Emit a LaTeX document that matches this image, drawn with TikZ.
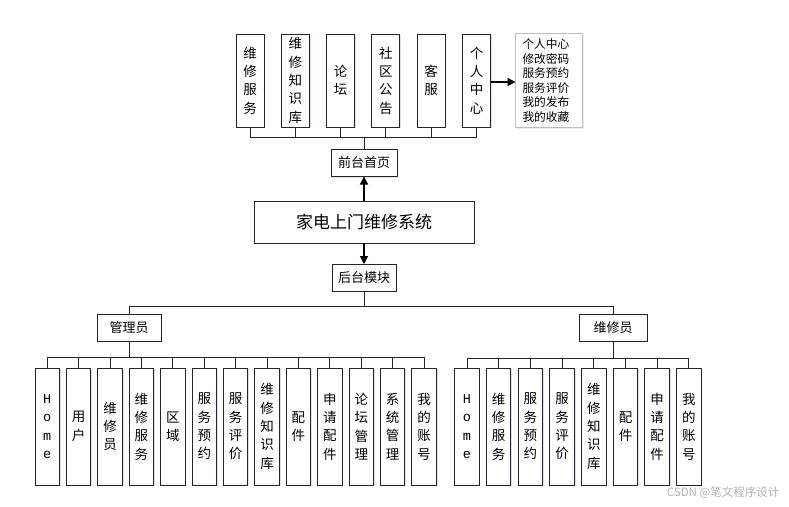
\documentclass[tikz,border=0pt]{standalone}
\usepackage{fontspec}
\setmainfont{Noto Sans CJK SC}
\newfontfamily\homefont{Liberation Mono}
\usetikzlibrary{arrows.meta, positioning, shadows}

\begin{document}
\begin{tikzpicture}[x=1pt, y=-1pt,
			box/.style={draw=black!85, line width=1pt, fill=white, inner sep=0pt, outer sep=0pt, align=center,
				drop shadow={shadow xshift=1.2pt, shadow yshift=-1.2pt, opacity=0.18, fill=blue!40!gray}},
			tbox/.style={box, minimum width=28pt, minimum height=93pt, font=\fontsize{13.5}{18.3}\selectfont},
			bbox/.style={box, minimum width=24.5pt, minimum height=117pt, font=\fontsize{13.5}{18.3}\selectfont},
			hbox/.style={box, minimum height=27pt, font=\fontsize{13}{15}\selectfont},
			info/.style={draw=black!25, line width=0.8pt, fill=white, inner sep=0pt, outer sep=0pt, align=left,
				minimum width=67pt, minimum height=94pt, text width=53pt, font=\fontsize{11.7}{14.6}\selectfont,
				drop shadow={shadow xshift=1.2pt, shadow yshift=-1.2pt, opacity=0.15}},
			arr/.style={-{Triangle[length=8pt, width=8pt]}, line width=1.2pt},
			bus/.style={line width=1pt, black!85}
			]
			\useasboundingbox (0,0) rectangle (789,506);
			
			% front end
			\node[tbox] (t1) at (250,80.5) {维\\修\\服\\务};
			\node[tbox, right=17.3pt of t1] (t2) {维\\修\\知\\识\\库};
			\node[tbox, right=17.3pt of t2] (t3) {论\\坛};
			\node[tbox, right=17.3pt of t3] (t4) {社\\区\\公\\告};
			\node[tbox, right=17.3pt of t4] (t5) {客\\服};
			\node[tbox, right=17.3pt of t5] (t6) {个\\人\\中\\心};
			\node[info, right=25pt of t6] (center) {个人中心\\修改密码\\服务预约\\服务评价\\我的发布\\我的收藏};
			\node[hbox, minimum width=66pt] (front) at (364,163) {前台首页};
			\node[box, minimum width=220pt, minimum height=42pt, font=\fontsize{17}{20}\selectfont] (sys) at (364,222) {家电上门维修系统};
			\node[hbox, minimum width=64pt] (back) at (364,277.5) {后台模块};
			
			% back end
			\node[hbox, minimum width=64pt] (admin) at (129,327.5) {管理员};
			\node[hbox, minimum width=68pt] (worker) at (613,327.5) {维修员};
			
			\node[bbox] (a1) at (47.25,426.5) {\homefont H\\\homefont o\\\homefont m\\\homefont e};
			\node[bbox, right=6.9pt of a1] (a2) {用\\户};
			\node[bbox, right=6.9pt of a2] (a3) {维\\修\\员};
			\node[bbox, right=6.9pt of a3] (a4) {维\\修\\服\\务};
			\node[bbox, right=6.9pt of a4] (a5) {区\\域};
			\node[bbox, right=6.9pt of a5] (a6) {服\\务\\预\\约};
			\node[bbox, right=6.9pt of a6] (a7) {服\\务\\评\\价};
			\node[bbox, right=6.9pt of a7] (a8) {维\\修\\知\\识\\库};
			\node[bbox, right=6.9pt of a8] (a9) {配\\件};
			\node[bbox, right=6.9pt of a9] (a10) {申\\请\\配\\件};
			\node[bbox, right=6.9pt of a10] (a11) {论\\坛\\管\\理};
			\node[bbox, right=6.9pt of a11] (a12) {系\\统\\管\\理};
			\node[bbox, right=6.9pt of a12] (a13) {我\\的\\账\\号};
			
			\node[bbox] (w1) at (467,426.5) {\homefont H\\\homefont o\\\homefont m\\\homefont e};
			\node[bbox, right=7.2pt of w1] (w2) {维\\修\\服\\务};
			\node[bbox, right=7.2pt of w2] (w3) {服\\务\\预\\约};
			\node[bbox, right=7.2pt of w3] (w4) {服\\务\\评\\价};
			\node[bbox, right=7.2pt of w4] (w5) {维\\修\\知\\识\\库};
			\node[bbox, right=7.2pt of w5] (w6) {配\\件};
			\node[bbox, right=7.2pt of w6] (w7) {申\\请\\配\\件};
			\node[bbox, right=7.2pt of w7] (w8) {我\\的\\账\\号};
			
			\node[font=\fontsize{11.5}{13}\selectfont, text=black!30, anchor=east] (mark) at (783,493) {CSDN @笔文程序设计};
			
			% connectors
			\coordinate (fbus) at (364,137);
			\coordinate (bbus) at (364,306);
			\coordinate (abus) at (129,357);
			\coordinate (wbus) at (613,358);
			\foreach \i in {1,...,6} \draw[bus] (t\i.south) |- (fbus);
			\draw[bus] (fbus) -- (front.north);
			\draw[arr] (t6.east |- 0,82) -- (center.west |- 0,82);
			\draw[arr] (sys.north) -- (front.south);
			\draw[arr] (sys.south) -- (back.north);
			\draw[bus] (back.south) -- (bbus);
			\draw[bus] (admin.north) |- (bbus);
			\draw[bus] (worker.north) |- (bbus);
			\draw[bus] (admin.south) -- (abus);
			\draw[bus] (worker.south) -- (wbus);
			\foreach \i in {1,...,13} \draw[bus] (a\i.north) |- (abus);
			\foreach \i in {1,...,8} \draw[bus] (w\i.north) |- (wbus);
	\end{tikzpicture}
\end{document}
